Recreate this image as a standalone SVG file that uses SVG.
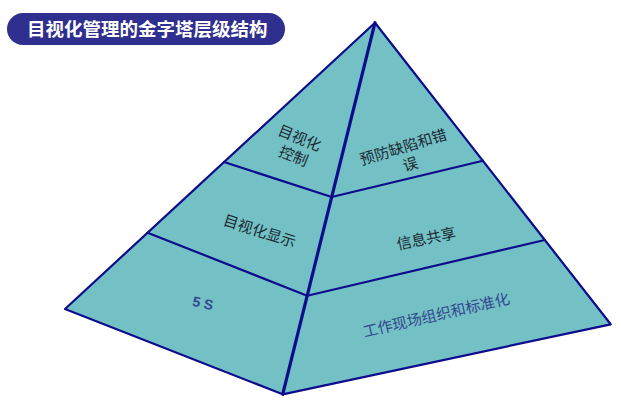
<svg xmlns="http://www.w3.org/2000/svg" width="621" height="402" viewBox="0 0 621 402">
  <style>
    .face { fill: #73c0c5; stroke: none; }
    .edge { fill: none; stroke: #0c0c8c; stroke-width: 2.2; stroke-linejoin: round; stroke-linecap: round; }
    .ridge { stroke-width: 3.2; }
    .lbl { font-family: "Noto Sans CJK SC", "Noto Sans", sans-serif; font-size: 15px; fill: #1c2b33; text-anchor: middle; dominant-baseline: central; }
    .blue { fill: #34478f; }
    .title { font-family: "Noto Sans CJK SC", "Liberation Sans", sans-serif; font-size: 18.5px; font-weight: bold; fill: #ffffff; }
  </style>
  <rect width="621" height="402" fill="#ffffff"/>
  <g id="title">
    <rect x="7" y="13" width="278" height="32" rx="16" ry="16" fill="#2f2f8f"/>
    <text class="title" x="27" y="35.5">目视化管理的金字塔层级结构</text>
  </g>
  <g id="node-control">
    <polygon class="face" points="375,22.7 224,162 331.7,197"/>
    <text class="lbl" transform="translate(300,137) rotate(22)">目视化</text>
    <text class="lbl" transform="translate(294,155) rotate(22)">控制</text>
  </g>
  <g id="node-prevent">
    <polygon class="face" points="375,22.7 331.7,197 482.9,160.7"/>
    <text class="lbl" transform="translate(403,146) rotate(-17)">预防缺陷和错</text>
    <text class="lbl" transform="translate(410,163) rotate(-17)">误</text>
  </g>
  <g id="node-display">
    <polygon class="face" points="224,162 331.7,197 307.2,295.7 147.6,232.7"/>
    <text class="lbl" transform="translate(260,230) rotate(17.6)">目视化显示</text>
  </g>
  <g id="node-share">
    <polygon class="face" points="331.7,197 482.9,160.7 544.8,240 307.2,295.7"/>
    <text class="lbl" transform="translate(426,237.5) rotate(-11.5)">信息共享</text>
  </g>
  <g id="node-5s">
    <polygon class="face" points="147.6,232.7 307.2,295.7 282.7,394.3 65,309"/>
    <text class="lbl blue" style="font-family:'Liberation Sans',sans-serif;font-weight:bold;font-size:14px" transform="translate(203,303) rotate(12)">5 S</text>
  </g>
  <g id="node-workplace">
    <polygon class="face" points="307.2,295.7 544.8,240 610.7,324.3 282.7,394.3"/>
    <text class="lbl blue" transform="translate(436,314) rotate(-13)">工作现场组织和标准化</text>
  </g>
  <g id="connectors">
    <polygon class="edge" points="375,22.7 65,309 282.7,394.3 610.7,324.3"/>
    <line class="edge ridge" x1="375" y1="22.7" x2="282.7" y2="394.3"/>
    <polyline class="edge" points="224,162 331.7,197 482.9,160.7"/>
    <polyline class="edge" points="147.6,232.7 307.2,295.7 544.8,240"/>
  </g>
</svg>
